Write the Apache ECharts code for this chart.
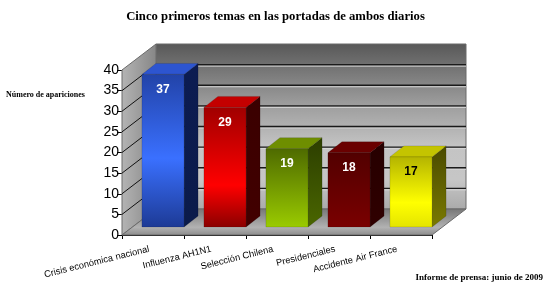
<!DOCTYPE html>
<html>
<head>
<meta charset="utf-8">
<script src="https://cdn.jsdelivr.net/npm/echarts@6/dist/echarts.min.js"></script>
<style>
html,body{margin:0;padding:0;background:#fff;}
#chart{width:551px;height:284px;}
</style>
</head>
<body>
<div id="chart"></div>
<script>
// ---- data ----
const categories = ['Crisis económica nacional', 'Influenza AH1N1', 'Selección Chilena', 'Presidenciales', 'Accidente Air France'];
const values = [37, 29, 19, 18, 17];
const yMin = 0;
const yMax = 40;
const yInterval = 5;
const titleText = 'Cinco primeros temas en las portadas de ambos diarios';
const yName = 'Número de apariciones';
const footerText = 'Informe de prensa: junio de 2009';

// ---- styles ----
const barStyles = [
  { front: [[0, '#2243a8'], [0.55, '#3a70ff'], [1, '#1d3a95']], side: [[0, '#0c1c52'], [1, '#0b1b4a']], top: '#2d55d0', label: '#ffffff' },
  { front: [[0, '#a00000'], [0.65, '#ff0000'], [1, '#8a0000']], side: [[0, '#3a0000'], [1, '#420000']], top: '#c40000', label: '#ffffff' },
  { front: [[0, '#4e6a00'], [1, '#9acb00']], side: [[0, '#2c3e00'], [1, '#4a6600']], top: '#6e8e00', label: '#ffffff' },
  { front: [[0, '#520000'], [1, '#7a0000']], side: [[0, '#260000'], [1, '#300000']], top: '#6a0000', label: '#ffffff' },
  { front: [[0, '#b4b400'], [0.65, '#ffff00'], [1, '#e4e400']], side: [[0, '#4a4a00'], [1, '#7a7a00']], top: '#c4c400', label: '#000000' }
];
const DX = 34, DY = -26;      // wall depth
const BX = 10, BY = -8;       // bar front plane offset
const BDX = 14, BDY = -11;    // bar depth

function grad(stops, horiz) {
  return {
    type: 'linear', x: 0, y: 0, x2: horiz ? 1 : 0, y2: horiz ? 0 : 1,
    colorStops: stops.map(s => ({ offset: s[0], color: s[1] }))
  };
}

const chart = echarts.init(document.getElementById('chart'), null, { renderer: 'canvas' });

function renderWalls(params, api) {
  const cs = params.coordSys;
  const x0 = cs.x, x1 = cs.x + cs.width;
  const y0 = api.coord([0, yMin])[1];
  const yT = api.coord([0, yMax])[1];
  const children = [];
  // back wall
  children.push({ type: 'polygon', shape: { points: [[x0 + DX, yT + DY], [x1 + DX, yT + DY], [x1 + DX, y0 + DY], [x0 + DX, y0 + DY]] },
    style: { fill: grad([[0, '#585858'], [0.35, '#9a9a9a'], [0.62, '#c4c4c4'], [0.82, '#c6c6c6'], [1, '#aaaaaa']]), stroke: '#6a6a6a', lineWidth: 1 } });
  // left wall
  children.push({ type: 'polygon', shape: { points: [[x0, y0], [x0, yT], [x0 + DX, yT + DY], [x0 + DX, y0 + DY]] },
    style: { fill: grad([[0, '#b4b4b4'], [1, '#868686']], true), stroke: '#6a6a6a', lineWidth: 1 } });
  // floor
  children.push({ type: 'polygon', shape: { points: [[x0, y0], [x1, y0], [x1 + DX, y0 + DY], [x0 + DX, y0 + DY]] },
    style: { fill: grad([[0, '#767676'], [0.7, '#b2b2b2'], [1, '#8a8a8a']]), stroke: '#6a6a6a', lineWidth: 1 } });
  // gridlines
  for (let v = yMin + yInterval; v < yMax; v += yInterval) {
    const y = api.coord([0, v])[1];
    children.push({ type: 'line', shape: { x1: x0 + DX, y1: y + DY + 1.5, x2: x1 + DX, y2: y + DY + 1.5 }, style: { stroke: '#d6d6d6', lineWidth: 1 } });
    children.push({ type: 'line', shape: { x1: x0 + DX, y1: y + DY, x2: x1 + DX, y2: y + DY }, style: { stroke: '#1a1a1a', lineWidth: 1.3 } });
    children.push({ type: 'line', shape: { x1: x0, y1: y, x2: x0 + DX, y2: y + DY }, style: { stroke: '#111111', lineWidth: 1 } });
  }
  return { type: 'group', children: children };
}

function renderBar(params, api) {
  const i = api.value(0);
  const v = api.value(1);
  const p = api.coord([i, v]);
  const p0 = api.coord([i, 0]);
  const w = api.size([1, 0])[0] * 0.68;
  const st = barStyles[params.dataIndex];
  const xl = p[0] + BX - w / 2, xr = p[0] + BX + w / 2;
  const top = p[1] + BY, bot = p0[1] + BY;
  return {
    type: 'group',
    children: [
      { type: 'polygon', shape: { points: [[xr, top], [xr + BDX, top + BDY], [xr + BDX, bot + BDY], [xr, bot]] },
        style: { fill: grad(st.side), stroke: 'rgba(0,0,0,0.25)', lineWidth: 0.5 } },
      { type: 'polygon', shape: { points: [[xl, top], [xl + BDX, top + BDY], [xr + BDX, top + BDY], [xr, top]] },
        style: { fill: st.top, stroke: 'rgba(0,0,0,0.25)', lineWidth: 0.5 } },
      { type: 'rect', shape: { x: xl, y: top, width: w, height: bot - top },
        style: { fill: grad(st.front), stroke: 'rgba(0,0,0,0.25)', lineWidth: 0.5 } },
      { type: 'text', style: { text: String(v), x: (xl + xr) / 2, y: top + 15, align: 'center', verticalAlign: 'middle',
        fill: st.label, font: 'bold 12px "Liberation Sans", Arial, sans-serif' } }
    ]
  };
}

chart.setOption({
  animation: false,
  title: [
    { text: titleText, left: 'center', top: 5,
      textStyle: { fontFamily: '"Liberation Serif", "Times New Roman", serif', fontWeight: 'bold', fontSize: 12.7, color: '#000' } },
    { text: yName, left: 1, top: 86,
      textStyle: { fontFamily: '"Liberation Serif", "Times New Roman", serif', fontWeight: 'bold', fontSize: 8, color: '#000' } },
    { text: footerText, right: 3, top: 268,
      textStyle: { fontFamily: '"Liberation Serif", "Times New Roman", serif', fontWeight: 'bold', fontSize: 9, color: '#000' } }
  ],
  grid: { left: 122, right: 119, top: 70, bottom: 49, containLabel: false },
  xAxis: {
    type: 'category', data: categories, boundaryGap: true,
    axisLine: { show: true, lineStyle: { color: '#000', width: 1 } },
    axisTick: { show: true, length: 4, lineStyle: { color: '#000' } },
    axisLabel: { rotate: 14, margin: 13, fontSize: 9.3, color: '#000', fontFamily: '"Liberation Sans", Arial, sans-serif', interval: 0, padding: [0, 4, 0, 0] },
    splitLine: { show: false }
  },
  yAxis: {
    type: 'value', min: yMin, max: yMax, interval: yInterval,
    axisLine: { show: true, lineStyle: { color: '#000', width: 1 } },
    axisTick: { show: true, length: 5, lineStyle: { color: '#000' } },
    axisLabel: { fontSize: 14, color: '#000', margin: 3, fontFamily: '"Liberation Sans", Arial, sans-serif' },
    splitLine: { show: false }
  },
  series: [
    { type: 'custom', name: 'walls', z: 1, clip: false, silent: true, renderItem: renderWalls, data: [[0, 0]], encode: { x: 0, y: 1 } },
    { type: 'custom', name: 'bars', z: 3, clip: false, renderItem: renderBar, data: values.map((v, i) => [i, v]), encode: { x: 0, y: 1 } }
  ]
});
</script>
</body>
</html>
